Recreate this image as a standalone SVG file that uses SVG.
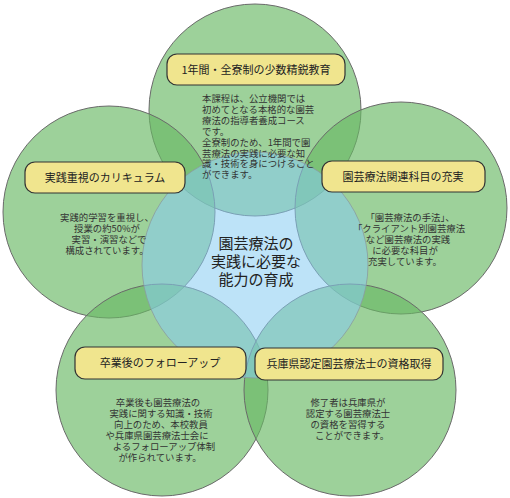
<svg xmlns="http://www.w3.org/2000/svg" width="510" height="498" viewBox="0 0 510 498">
<style>
.petal{fill:#69b964;fill-opacity:0.65;stroke:#6a6a6a;stroke-width:1}
.core{fill:#87ccf2;fill-opacity:0.55;stroke:#8a9aa0;stroke-width:0.8}
.lbl{fill:#f0e58e;stroke:#333;stroke-width:1.2}
.lt{font-family:"Noto Sans CJK JP","Liberation Sans",sans-serif;font-size:11px;fill:#222;text-anchor:middle}
.bt{font-family:"Noto Sans CJK JP","Liberation Sans",sans-serif;font-size:9.4px;fill:#333}
.c{text-anchor:middle}
.ct{font-family:"Noto Sans CJK JP","Liberation Sans",sans-serif;font-size:15px;fill:#222;text-anchor:middle}
</style>
<rect width="510" height="498" fill="#fff"/>
<g id="backdrop">
<circle id="circle-top" class="petal" cx="255" cy="110" r="106"/>
<circle id="circle-left" class="petal" cx="109" cy="212" r="106"/>
<circle id="circle-right" class="petal" cx="401" cy="208" r="106"/>
<circle id="circle-bottom-left" class="petal" cx="162" cy="390" r="106"/>
<circle id="circle-bottom-right" class="petal" cx="350" cy="390" r="106"/>
<circle id="circle-center" class="core" cx="255" cy="265" r="113"/>
</g>
<g id="connectors"/>
<g id="node-top">
<rect class="lbl" x="167" y="54" width="178" height="31" rx="10"/>
<text class="lt" x="256" y="74">1年間・全寮制の少数精鋭教育</text>
<text class="bt" x="202" y="102"><tspan x="202">本課程は、公立機関では</tspan><tspan x="202" dy="10.9">初めてとなる本格的な園芸</tspan><tspan x="202" dy="10.9">療法の指導者養成コース</tspan><tspan x="202" dy="10.9">です。</tspan><tspan x="202" dy="10.9">全寮制のため、1年間で園</tspan><tspan x="202" dy="10.9">芸療法の実践に必要な知</tspan><tspan x="202" dy="10.9">識・技術を身につけること</tspan><tspan x="202" dy="10.9">ができます。</tspan></text>
</g>
<g id="node-left">
<rect class="lbl" x="25" y="162" width="160" height="31" rx="10"/>
<text class="lt" x="105" y="181.5">実践重視のカリキュラム</text>
<text class="bt c" x="107" y="221"><tspan x="107">実践的学習を重視し、</tspan><tspan x="107" dy="11">授業の約50%が</tspan><tspan x="109" dy="11">実習・演習などで</tspan><tspan x="107" dy="11">構成されています。</tspan></text>
</g>
<g id="node-right">
<rect class="lbl" x="322" y="161" width="163" height="31" rx="10"/>
<text class="lt" x="403" y="180.5">園芸療法関連科目の充実</text>
<text class="bt c" x="408" y="221"><tspan x="410">「園芸療法の手法」、</tspan><tspan x="409" dy="11">「クライアント別園芸療法</tspan><tspan x="408" dy="11">など園芸療法の実践</tspan><tspan x="405" dy="11">に必要な科目が</tspan><tspan x="405" dy="11">充実しています。</tspan></text>
</g>
<g id="node-bottom-left">
<rect class="lbl" x="75" y="347" width="171" height="32" rx="10"/>
<text class="lt" x="160" y="367">卒業後のフォローアップ</text>
<text class="bt c" x="160" y="405.5"><tspan x="158">卒業後も園芸療法の</tspan><tspan x="161" dy="11">実践に関する知識・技術</tspan><tspan x="161" dy="11">向上のため、本校教員</tspan><tspan x="157" dy="11">や兵庫県園芸療法士会に</tspan><tspan x="164" dy="11">よるフォローアップ体制</tspan><tspan x="160" dy="11">が作られています。</tspan></text>
</g>
<g id="node-bottom-right">
<rect class="lbl" x="255" y="348" width="188" height="32" rx="10"/>
<text class="lt" x="349" y="368">兵庫県認定園芸療法士の資格取得</text>
<text class="bt c" x="349" y="405.5"><tspan x="348">修了者は兵庫県が</tspan><tspan x="348" dy="11.2">認定する園芸療法士</tspan><tspan x="348" dy="11.2">の資格を習得する</tspan><tspan x="352" dy="11.2">ことができます。</tspan></text>
</g>
<g id="node-center">
<text class="ct" x="256" y="249"><tspan x="256">園芸療法の</tspan><tspan x="256" dy="18">実践に必要な</tspan><tspan x="256" dy="18">能力の育成</tspan></text>
</g>
</svg>
